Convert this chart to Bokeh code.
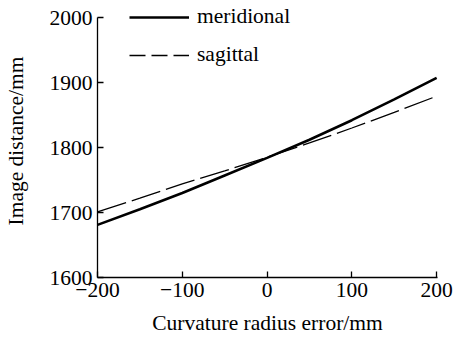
from bokeh.plotting import figure
from bokeh.models import Legend, LegendItem, Range1d, FixedTicker
from bokeh.embed import file_html
from bokeh.resources import INLINE

x_vals = [-200, -150, -100, -50, 0, 50, 100, 150, 200]
meridional = [1681, 1705, 1730, 1757, 1784, 1812, 1842, 1874, 1907]
sagittal = [1701, 1722, 1744, 1764, 1785, 1807, 1830, 1854, 1879]
x_ticks = [-200, -100, 0, 100, 200]
y_ticks = [1600, 1700, 1800, 1900, 2000]

FONT = "Liberation Serif"
FS = "21.5px"

p = figure(width=453, height=337, output_backend="svg", toolbar_location=None,
           x_range=Range1d(-200, 201), y_range=Range1d(1600, 2020))
p.min_border_left = 96
p.min_border_right = 16
p.min_border_top = 4
p.min_border_bottom = 60
p.outline_line_color = None
p.xgrid.visible = False
p.ygrid.visible = False
p.background_fill_color = "white"
p.border_fill_color = "white"

r1 = p.line(x_vals, meridional, line_color="black", line_width=2.6)
r2 = p.line(x_vals, sagittal, line_color="black", line_width=1.3, line_dash="30 6")

# legend proxies (same data, hidden) with legend-style dash
l1 = p.line(x_vals, meridional, line_color="black", line_width=2.6, visible=False)
l2 = p.line(x_vals, sagittal, line_color="black", line_width=1.3, line_dash="16 6", visible=False)

for ax, ticks, lab in ((p.xaxis[0], x_ticks, "Curvature radius error/mm"),
                       (p.yaxis[0], y_ticks, "Image distance/mm")):
    ax.ticker = FixedTicker(ticks=ticks)
    ax.minor_tick_line_color = None
    ax.major_tick_in = 6
    ax.major_tick_out = 0
    ax.axis_line_width = 1.3
    ax.major_tick_line_width = 1.3
    ax.axis_line_color = "black"
    ax.major_tick_line_color = "black"
    ax.major_label_text_font = FONT
    ax.major_label_text_font_size = FS
    ax.major_label_text_color = "black"
    ax.axis_label = lab
    ax.axis_label_text_font = FONT
    ax.axis_label_text_font_size = FS
    ax.axis_label_text_font_style = "normal"
    ax.axis_label_text_color = "black"
    ax.major_label_standoff = 5

p.yaxis[0].bounds = (1600, 2000)
p.xaxis[0].axis_label_standoff = 11
p.yaxis[0].axis_label_standoff = 19
p.xaxis[0].major_label_overrides = {-200: "\u2212200", -100: "\u2212100"}

legend = Legend(items=[LegendItem(label="meridional", renderers=[l1]),
                       LegendItem(label="sagittal", renderers=[l2])],
                location=(32, 210), orientation="vertical")
legend.border_line_color = None
legend.background_fill_alpha = 0
legend.padding = 0
legend.margin = 0
legend.spacing = 13
legend.glyph_width = 60
legend.glyph_height = 20
legend.label_height = 20
legend.label_standoff = 8
legend.label_text_font = FONT
legend.label_text_font_size = FS
legend.label_text_color = "black"
p.add_layout(legend, "center")

open("out.html", "w").write(file_html(p, INLINE))
